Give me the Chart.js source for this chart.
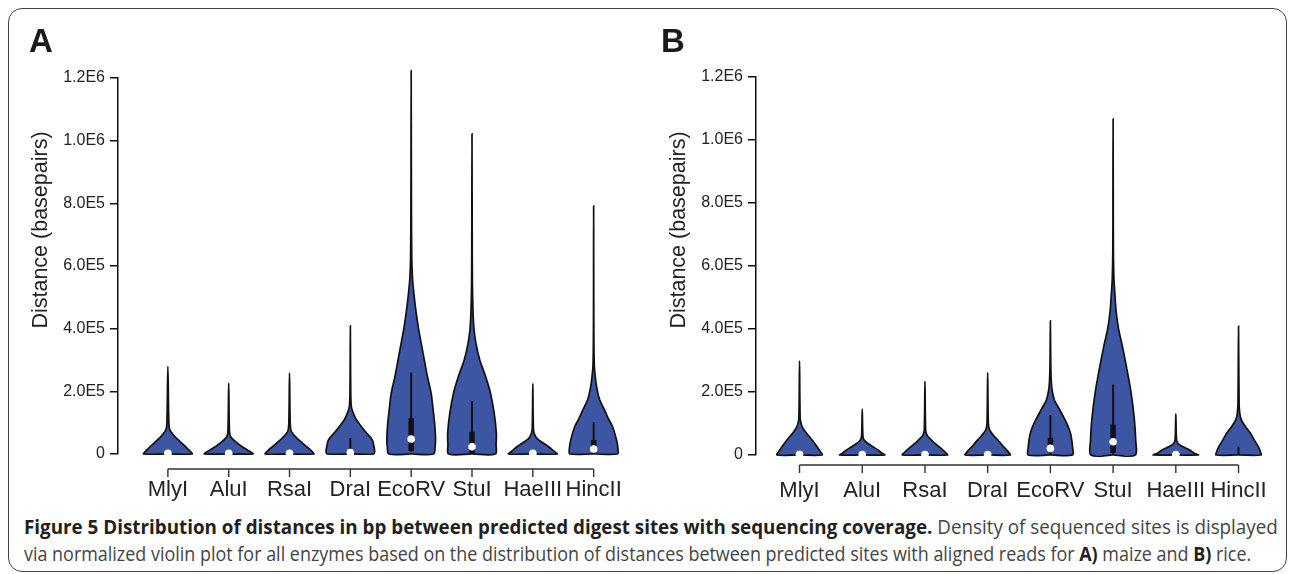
<!DOCTYPE html>
<html>
<head>
<meta charset="utf-8">
<script src="https://cdn.jsdelivr.net/npm/chart.js@4.4.1/dist/chart.umd.min.js"></script>
<style>
  body { margin: 0; width: 1290px; height: 574px; position: relative; overflow: hidden; background: #fff; font-family: "Liberation Sans", Arial, sans-serif; }
  #frame { position: absolute; left: 8px; top: 8px; width: 1279px; height: 564px; box-sizing: border-box; border: 1.5px solid #444; border-radius: 14px; }
  canvas { position: absolute; top: 0; }
  .panel-label { position: absolute; top: 24px; font-size: 33px; line-height: 1; font-weight: bold; color: #1a1a1a; }
  .ytitle { position: absolute; top: 230px; font-size: 21.5px; color: #222; white-space: nowrap; line-height: 1;
            transform: translate(-50%, -50%) rotate(-90deg); }
  .cap { position: absolute; left: 24px; font-family: "Open Sans", sans-serif; font-size: 20px; line-height: 27px;
         white-space: nowrap; color: #444; transform-origin: 0 0; }
  .cap b { color: #231f20; }
</style>
</head>
<body>
<div id="frame"></div>
<canvas id="chartA" width="645" height="510" style="left:0"></canvas>
<canvas id="chartB" width="650" height="510" style="left:640px"></canvas>
<div class="panel-label" style="left:29px">A</div>
<div class="panel-label" style="left:661px">B</div>
<div class="ytitle" style="left:41px">Distance (basepairs)</div>
<div class="ytitle" style="left:679px">Distance (basepairs)</div>
<div class="cap" id="cap1" data-fit="1254" style="top:513px"><b>Figure 5 Distribution of distances in bp between predicted digest sites with sequencing coverage.</b> Density of sequenced sites is displayed</div>
<div class="cap" id="cap2" data-fit="1227" style="top:540px">via normalized violin plot for all enzymes based on the distribution of distances between predicted sites with aligned reads for <b>A)</b> maize and <b>B)</b> rice.</div>
<script>
const enzymes = ['MlyI', 'AluI', 'RsaI', 'DraI', 'EcoRV', 'StuI', 'HaeIII', 'HincII'];
const yTicks = [0, 200000, 400000, 600000, 800000, 1000000, 1200000];

// A) maize: violin outline per enzyme, distance levels (bp) and relative half-width
const maizeLevels = [
  [0, 7000, 13000, 22000, 33000, 45000, 60000, 77000, 100000, 279000],
  [0, 6000, 15000, 25000, 38000, 55000, 75000, 226000],
  [0, 7000, 13000, 20000, 30000, 40000, 55000, 71000, 95000, 258000],
  [0, 8000, 20000, 45000, 70000, 87000, 110000, 135000, 151000, 200000, 409000],
  [0, 20000, 50000, 100000, 150000, 194000, 250000, 300000, 350000, 406000, 460000, 513000, 555000, 620000, 800000, 1224000],
  [0, 30000, 67000, 131000, 194000, 247000, 300000, 354000, 400000, 460000, 550000, 700000, 1022000],
  [0, 8000, 23000, 35000, 48000, 61000, 80000, 225000],
  [0, 15000, 45000, 87000, 115000, 140000, 175000, 215000, 260000, 285000, 400000, 792000]
];
const maizeWidths = [
  [1, .94, .86, .75, .59, .43, .24, .08, .04, 0],
  [1, .92, .72, .52, .3, .08, .03, 0],
  [1, .94, .86, .76, .6, .45, .25, .08, .03, 0],
  [.96, 1, .98, .9, .63, .46, .24, .1, .04, .015, 0],
  [.92, .98, 1, .96, .89, .82, .66, .54, .42, .29, .19, .11, .06, .025, .01, 0],
  [.96, .99, 1, .91, .76, .56, .32, .16, .08, .04, .016, .008, 0],
  [1, .88, .65, .42, .19, .08, .025, 0],
  [.98, 1, .94, .78, .59, .45, .24, .12, .05, .025, .008, 0]
];
const maizeLow    = [null, null, null, 0, 7000, 0, null, 0];
const maizeHigh   = [null, null, null, 51000, 260000, 169000, null, 101000];
const maizeQ1     = [null, null, null, null, 10000, 0, null, 12000];
const maizeQ3     = [null, null, null, null, 114000, 71000, null, 45000];
const maizeMedian = [2000, 2000, 2000, 5000, 48000, 23000, 2000, 16000];

// B) rice
const riceLevels = [
  [0, 10000, 26000, 47000, 70000, 85000, 95000, 115000, 298000],
  [0, 6000, 16000, 28000, 38000, 47000, 60000, 146000],
  [0, 8000, 22000, 38000, 52000, 63000, 80000, 234000],
  [0, 10000, 25000, 45000, 62000, 79000, 100000, 262000],
  [0, 26000, 50000, 69000, 95000, 121000, 150000, 174000, 200000, 228000, 280000, 426000],
  [0, 47000, 121000, 196000, 269000, 353000, 400000, 459000, 520000, 561000, 650000, 800000, 1067000],
  [0, 5000, 16000, 25000, 32000, 37000, 50000, 131000],
  [0, 10000, 26000, 47000, 69000, 90000, 111000, 130000, 160000, 409000]
];
const riceWidths = [
  [1, .93, .78, .57, .3, .15, .09, .03, 0],
  [1, .87, .7, .43, .22, .09, .03, 0],
  [1, .91, .7, .43, .22, .09, .03, 0],
  [1, .91, .72, .48, .26, .09, .03, 0],
  [.98, .98, .94, .89, .76, .58, .36, .18, .09, .045, .018, 0],
  [.98, 1, .93, .8, .62, .39, .24, .13, .07, .036, .013, .007, 0],
  [1, .83, .61, .35, .17, .09, .03, 0],
  [.99, .97, .88, .7, .53, .31, .13, .06, .026, 0]
];
const riceLow    = [0, null, null, null, 0, 0, null, 0];
const riceHigh   = [16000, null, null, null, 127000, 224000, null, 26000];
const riceQ1     = [null, null, null, null, 10000, 6000, null, null];
const riceQ3     = [null, null, null, null, 55000, 97000, null, null];
const riceMedian = [2000, 1500, 1500, 1500, 21000, 42000, 1500, null];

const VIOLIN_FILL = '#3c56a4';
const INK = '#111';

Chart.defaults.font.family = '"Liberation Sans", Arial, sans-serif';

// category axis drawn a little below the plot, R style
const offsetAxis = {
  id: 'offsetAxis',
  afterDraw(chart, args, opts) {
    const { ctx, chartArea } = chart;
    const x = chart.scales.x;
    const y0 = chartArea.bottom + opts.gap;
    ctx.save();
    ctx.strokeStyle = '#333';
    ctx.lineWidth = 1.4;
    ctx.beginPath();
    ctx.moveTo(x.getPixelForValue(0), y0);
    ctx.lineTo(x.getPixelForValue(enzymes.length - 1), y0);
    enzymes.forEach((_, i) => {
      const px = x.getPixelForValue(i);
      ctx.moveTo(px, y0);
      ctx.lineTo(px, y0 + opts.tick);
    });
    ctx.stroke();
    ctx.restore();
  }
};

function sci(v) {
  if (v === 0) return '0';
  return v.toExponential(1).toUpperCase().replace('+', '');
}

function segments(lo, hi) {
  const pts = [];
  enzymes.forEach((_, i) => {
    if (lo[i] == null || hi[i] == null) return;
    pts.push({ x: i, y: lo[i] }, { x: i, y: hi[i] }, { x: i, y: null });
  });
  return pts;
}

function buildPanel(canvasId, p) {
  const datasets = [];

  enzymes.forEach((name, i) => {
    const lv = p.levels[i], wd = p.widths[i];
    const pts = [{ x: i, y: 0 }];
    for (let k = 0; k < lv.length; k++) pts.push({ x: i - wd[k] * p.half, y: lv[k] });
    for (let k = lv.length - 2; k >= 0; k--) pts.push({ x: i + wd[k] * p.half, y: lv[k] });
    pts.push({ x: i, y: 0 });
    datasets.push({
      label: name,
      data: pts,
      fill: 'shape',
      backgroundColor: VIOLIN_FILL,
      borderColor: INK,
      borderWidth: 1.7,
      tension: 0.3,
      pointRadius: 0,
      clip: false,
      order: 4
    });
  });

  datasets.push({
    data: segments(p.low, p.high),
    spanGaps: false, fill: false,
    borderColor: INK, borderWidth: 2, borderCapStyle: 'butt',
    pointRadius: 0, clip: false, order: 3
  });
  datasets.push({
    data: segments(p.q1, p.q3),
    spanGaps: false, fill: false,
    borderColor: INK, borderWidth: 5.5, borderCapStyle: 'butt',
    pointRadius: 0, clip: false, order: 2
  });
  datasets.push({
    data: enzymes.map((_, i) => p.median[i] == null ? null : { x: i, y: p.median[i] }).filter(d => d),
    showLine: false, fill: false,
    pointRadius: 3.8, pointBackgroundColor: '#fff', pointBorderWidth: 0,
    clip: false, order: 1
  });

  return new Chart(document.getElementById(canvasId), {
    type: 'line',
    data: { datasets },
    plugins: [offsetAxis],
    options: {
      responsive: false,
      animation: false,
      events: [],
      layout: { padding: { top: p.top, left: 0, right: 0, bottom: 0 } },
      elements: { line: { capBezierPoints: false } },
      plugins: {
        legend: { display: false },
        tooltip: { enabled: false },
        offsetAxis: { gap: p.axisGap, tick: 8 }
      },
      scales: {
        x: {
          type: 'linear',
          min: p.xMin, max: p.xMax,
          afterBuildTicks: s => { s.ticks = enzymes.map((_, i) => ({ value: i })); },
          afterFit: s => { s.height = p.xAxisHeight; },
          grid: { display: false, drawTicks: false },
          border: { display: false },
          ticks: {
            autoSkip: false, maxRotation: 0, minRotation: 0,
            padding: 23, color: '#222', font: { size: 22 },
            callback: v => enzymes[v] ?? ''
          }
        },
        y: {
          min: 0, max: 1200000,
          afterBuildTicks: s => { s.ticks = yTicks.map(v => ({ value: v })); },
          afterFit: s => { s.width = p.yAxisWidth; },
          grid: { display: true, drawOnChartArea: false, drawTicks: true, tickLength: 8, color: INK, lineWidth: 1.5 },
          border: { display: true, color: INK, width: 1.5 },
          ticks: { padding: 5, color: '#222', font: { size: 16 }, callback: v => sci(v) }
        }
      }
    }
  });
}

buildPanel('chartA', {
  levels: maizeLevels, widths: maizeWidths,
  low: maizeLow, high: maizeHigh, q1: maizeQ1, q3: maizeQ3, median: maizeMedian,
  half: 0.40, top: 78, xAxisHeight: 56, yAxisWidth: 118, axisGap: 15,
  xMin: -0.82, xMax: 7.488
});

buildPanel('chartB', {
  levels: riceLevels, widths: riceWidths,
  low: riceLow, high: riceHigh, q1: riceQ1, q3: riceQ3, median: riceMedian,
  half: 0.36, top: 77, xAxisHeight: 55, yAxisWidth: 116, axisGap: 10,
  xMin: -0.694, xMax: 7.725
});

// squeeze the caption lines to the condensed width of the original
function fitCaption() {
  document.querySelectorAll('.cap').forEach(el => {
    el.style.transform = 'none';
    const target = +el.dataset.fit;
    el.style.transform = `scaleX(${target / el.scrollWidth})`;
  });
}
fitCaption();
if (document.fonts) document.fonts.ready.then(fitCaption);
</script>
</body>
</html>
